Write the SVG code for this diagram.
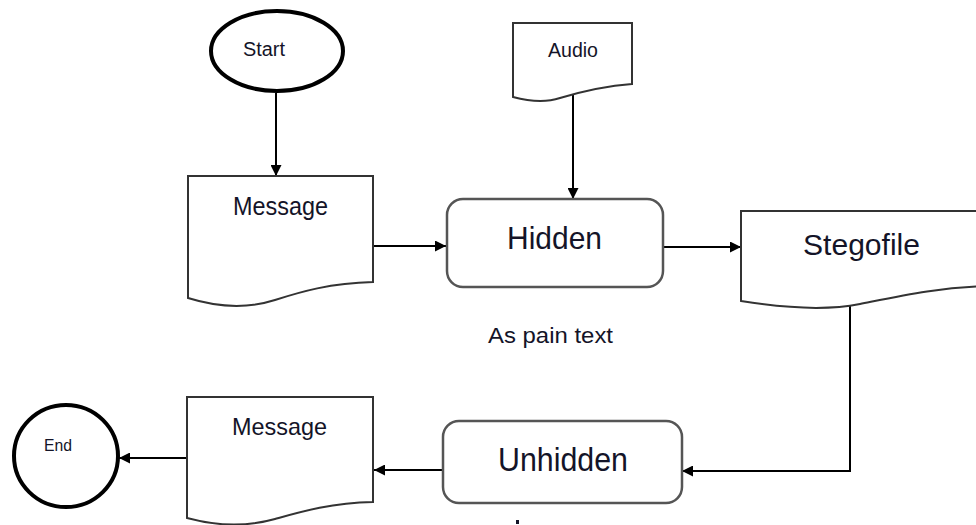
<svg xmlns="http://www.w3.org/2000/svg" width="976" height="525" viewBox="0 0 976 525">
<style>
.term{fill:#fff;stroke:#000;stroke-width:4}
.doc{fill:#fff;stroke:#333;stroke-width:2}
.proc{fill:#fff;stroke:#555;stroke-width:2.5}
.edge{fill:none;stroke:#000;stroke-width:2}
.t{font-family:"Liberation Sans",Arial,sans-serif;fill:#141428}
</style>
<defs>
<marker id="arr" viewBox="0 0 10 10" refX="10" refY="5" markerWidth="11" markerHeight="11" markerUnits="userSpaceOnUse" orient="auto">
<path d="M0,0 L10,5 L0,10 Z" fill="#000"/>
</marker>
</defs>
<rect width="976" height="525" fill="#fff"/>
<g id="connectors">
<line class="edge" x1="276" y1="93" x2="276" y2="176" marker-end="url(#arr)"/>
<line class="edge" x1="573" y1="90" x2="573" y2="199" marker-end="url(#arr)"/>
<line class="edge" x1="373" y1="246" x2="446" y2="246" marker-end="url(#arr)"/>
<line class="edge" x1="663" y1="247" x2="741" y2="247" marker-end="url(#arr)"/>
<polyline class="edge" points="850,306 850,471 682,471" marker-end="url(#arr)"/>
<line class="edge" x1="443" y1="470" x2="374" y2="470" marker-end="url(#arr)"/>
<line class="edge" x1="186" y1="458" x2="119" y2="458" marker-end="url(#arr)"/>
</g>
<g id="start">
<ellipse class="term" cx="277" cy="51" rx="66" ry="40"/>
<text class="t" x="243" y="56" font-size="20" textLength="42" lengthAdjust="spacingAndGlyphs">Start</text>
</g>
<g id="audio">
<path class="doc" d="M513,23 H632 V84 C605,86 580,92 560,98 C545,103 528,101 513,97 Z"/>
<text class="t" x="548" y="57" font-size="20" textLength="50" lengthAdjust="spacingAndGlyphs">Audio</text>
</g>
<g id="message1">
<path class="doc" d="M188,176 H373 V282 C330,283 300,292 275,300 C250,308 220,308 188,298 Z"/>
<text class="t" x="233" y="215" font-size="25" textLength="95" lengthAdjust="spacingAndGlyphs">Message</text>
</g>
<g id="hidden">
<rect class="proc" x="447" y="199" width="216" height="88" rx="16"/>
<text class="t" x="507" y="249" font-size="32" textLength="95" lengthAdjust="spacingAndGlyphs">Hidden</text>
</g>
<g id="stegofile">
<path class="doc" d="M741,211 H990 V286 C940,287 900,296 860,304 C830,310 790,309 741,301 Z"/>
<text class="t" x="803" y="255" font-size="30" textLength="117" lengthAdjust="spacingAndGlyphs">Stegofile</text>
</g>
<g id="caption">
<text class="t" x="488" y="343" font-size="22" textLength="125" lengthAdjust="spacingAndGlyphs">As pain text</text>
</g>
<g id="unhidden">
<rect class="proc" x="443" y="421" width="239" height="82" rx="16"/>
<text class="t" x="498" y="471" font-size="33" textLength="130" lengthAdjust="spacingAndGlyphs">Unhidden</text>
</g>
<g id="message2">
<path class="doc" d="M187,397 H373 V502 C330,503 300,512 275,519 C250,526 220,527 187,518 Z"/>
<text class="t" x="232" y="435" font-size="24" textLength="95" lengthAdjust="spacingAndGlyphs">Message</text>
</g>
<g id="end">
<ellipse class="term" cx="66" cy="456" rx="52" ry="51"/>
<text class="t" x="44" y="451" font-size="17" textLength="28" lengthAdjust="spacingAndGlyphs">End</text>
</g>
<rect x="516" y="520" width="3" height="4" fill="#141428"/>
</svg>
